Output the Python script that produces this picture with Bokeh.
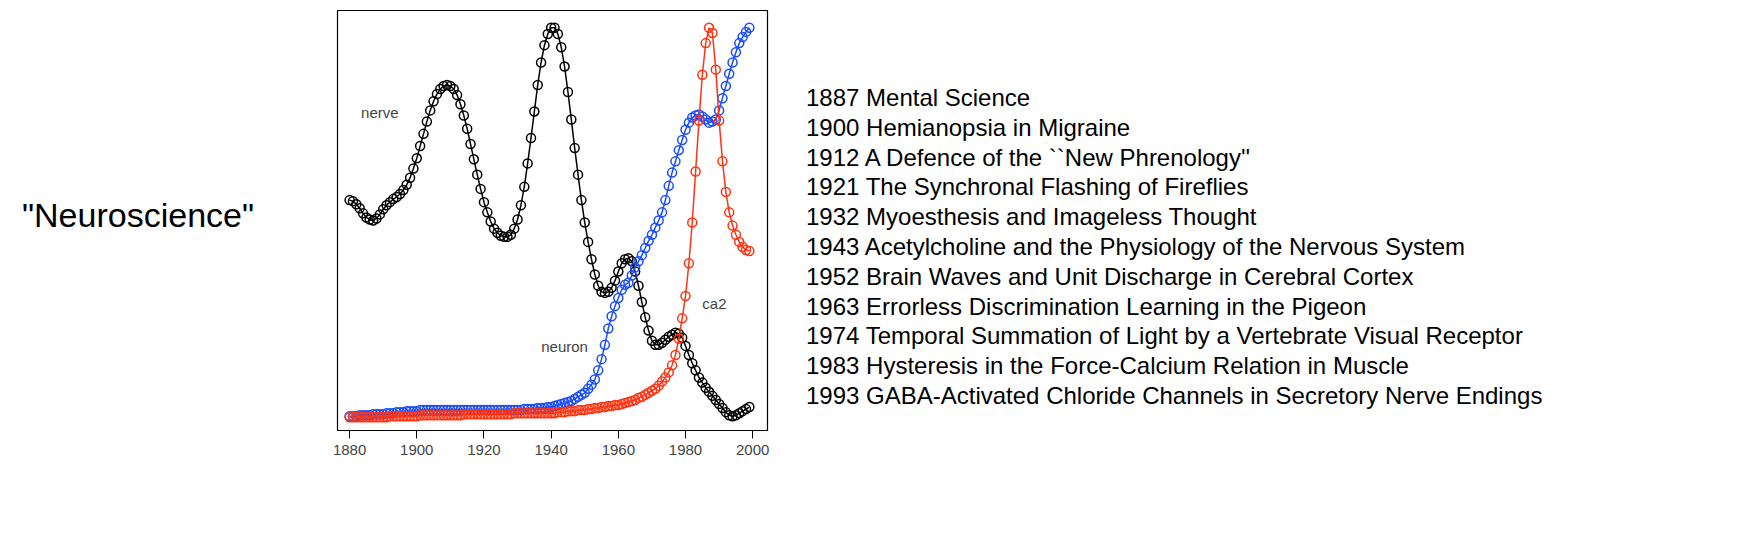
from bokeh.plotting import figure
from bokeh.layouts import row
from bokeh.models import Div, Label, FixedTicker
from bokeh.embed import file_html
from bokeh.resources import INLINE

years = list(range(1880, 2000))
nerve = [212,211,208,204,199,195,193,192,194,198,
         203,207,210,213,215,218,222,227,234,243,
         253,265,277,289,300,309,316,321,324,325,
         324,321,315,306,295,282,267,252,237,223,
         210,200,191,184,180,177,176,176,178,184,
         193,207,225,248,273,299,325,347,364,375,
         381,381,375,362,343,318,291,263,237,212,
         190,171,154,139,128,122,121,122,126,133,
         142,150,154,155,152,142,128,112,97,84,
         74,70,70,72,75,78,80,82,81,77,
         69,60,52,45,38,33,28,24,20,16,
         12,8,4,1,0,1,3,5,7,9]
neuron = [0,0,0,1,1,1,1,2,2,2,
          2,3,3,3,4,4,4,5,5,5,
          5,6,6,6,6,6,6,6,6,6,
          6,6,6,6,6,6,6,6,6,6,
          6,6,6,6,6,6,6,6,6,6,
          6,6,7,7,7,7,8,8,8,9,
          9,10,11,12,13,14,15,17,19,21,
          23,27,31,36,45,56,70,86,98,108,
          116,124,129,131,138,146,152,158,165,172,
          178,185,192,200,212,226,239,250,261,271,
          281,288,293,295,296,294,291,288,289,291,
          300,312,324,336,347,357,366,372,377,381]
ca2 = [-1,-1,-1,-1,-1,-1,-1,-1,-1,-1,
       -1,-1,0,0,0,0,0,0,0,0,
       0,1,1,1,1,1,1,1,1,1,
       1,1,1,1,2,2,2,2,2,2,
       2,2,2,2,2,2,2,2,2,3,
       3,3,3,3,3,3,3,3,3,3,
       3,3,4,4,4,5,5,5,6,6,
       6,7,7,8,8,9,9,10,10,11,
       11,12,13,14,15,16,18,19,21,23,
       25,27,30,34,38,43,50,60,76,96,
       118,150,190,240,290,335,366,381,376,340,
       290,250,220,200,187,178,171,166,163,162]
xticks = [1880, 1900, 1920, 1940, 1960, 1980, 2000]
papers = ["1887 Mental Science",
          "1900 Hemianopsia in Migraine",
          "1912 A Defence of the ``New Phrenology''",
          "1921 The Synchronal Flashing of Fireflies",
          "1932 Myoesthesis and Imageless Thought",
          "1943 Acetylcholine and the Physiology of the Nervous System",
          "1952 Brain Waves and Unit Discharge in Cerebral Cortex",
          "1963 Errorless Discrimination Learning in the Pigeon",
          "1974 Temporal Summation of Light by a Vertebrate Visual Receptor",
          "1983 Hysteresis in the Force-Calcium Relation in Muscle",
          "1993 GABA-Activated Chloride Channels in Secretory Nerve Endings"]
FONT = "Liberation Sans"

p = figure(width=455, height=480, x_range=(1876.4, 2004.4), y_range=(-14, 398),
           output_backend="svg", toolbar_location=None,
           min_border_left=7, min_border_right=18, min_border_top=10, min_border_bottom=50)
p.grid.visible = False
p.yaxis.visible = False
p.outline_line_color = "black"
p.outline_line_width = 1.2
p.xaxis.ticker = FixedTicker(ticks=xticks)
p.xaxis.axis_line_color = None
p.xaxis.major_tick_out = 8
p.xaxis.major_tick_in = 0
p.xaxis.minor_tick_line_color = None
p.xaxis.major_label_text_font = FONT
p.xaxis.major_label_text_font_size = "15px"
p.xaxis.major_label_standoff = 6

for ys, c in [(nerve, "black"), (neuron, "#1a4cff"), (ca2, "#ff3311")]:
    p.line(years, ys, color=c, line_width=1.5)
    p.scatter(years, ys, marker="circle", size=9, fill_color=None, line_color=c, line_width=1.5)

for txt, x, y in [("nerve", 1889, 298), ("neuron", 1944, 68), ("ca2", 1988.6, 111)]:
    p.add_layout(Label(x=x, y=y, text=txt, text_font=FONT, text_font_size="15px",
                       text_align="center", text_baseline="middle"))

left = Div(text='<div style="font-family:\'Liberation Sans\';font-size:34px;padding-top:186px;padding-left:17px;white-space:nowrap">"Neuroscience"</div>',
           width=320, height=480)
right = Div(text='<div style="font-family:\'Liberation Sans\';font-size:24px;line-height:29.8px;padding-top:78px;padding-left:16px;white-space:nowrap">'
            + "<br>".join(t.replace("<", "&lt;") for t in papers) + "</div>",
            width=960, height=480)
layout = row(left, p, right)
open("out.html", "w").write(file_html(layout, INLINE))
